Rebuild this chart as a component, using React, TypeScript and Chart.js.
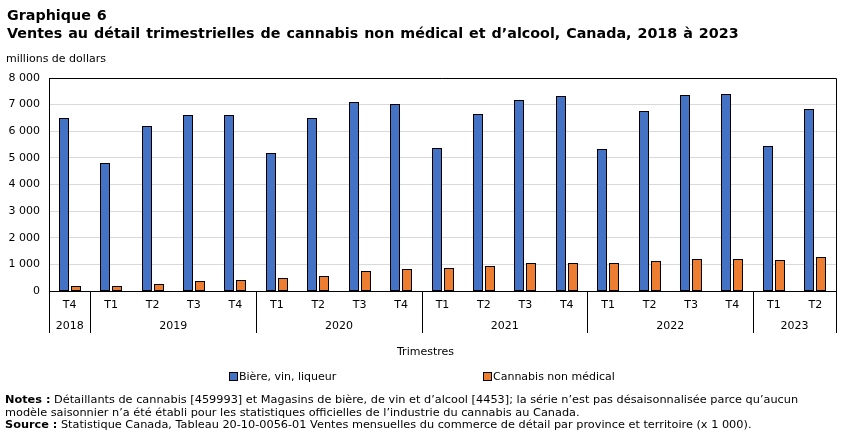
import React, { useEffect, useRef } from "react";
import { Chart, registerables } from "chart.js";

Chart.register(...registerables);

const quarters = ["T4", "T1", "T2", "T3", "T4", "T1", "T2", "T3", "T4", "T1", "T2", "T3", "T4", "T1", "T2", "T3", "T4", "T1", "T2"];
const yearLabels = ["2018", "2019", "2020", "2021", "2022", "2023"];
const yearSizes = [1, 4, 4, 4, 4, 2];
const alcool = [6500, 4800, 6200, 6620, 6620, 5200, 6500, 7100, 7030, 5380, 6650, 7180, 7330, 5340, 6770, 7370, 7410, 5450, 6840];
const cannabis = [170, 180, 250, 370, 400, 480, 560, 750, 820, 860, 940, 1040, 1040, 1040, 1115, 1190, 1190, 1150, 1265];
const yTicks = [0, 1000, 2000, 3000, 4000, 5000, 6000, 7000, 8000];

const FONT = "'DejaVu Sans', Verdana, sans-serif";

const fmt = (v: number) => String(v).replace(/\B(?=(\d{3})+(?!\d))/g, " ");

export default function App() {
  const ref = useRef<HTMLCanvasElement | null>(null);
  useEffect(() => {
    document.body.style.margin = "0";
    const canvas = ref.current;
    if (!canvas) return;
    const crispPlugin = {
      id: "crisp",
      beforeDatasetsDraw(chart: any) {
        chart.data.datasets.forEach((_: any, i: number) => {
          const meta = chart.getDatasetMeta(i);
          meta.data.forEach((el: any) => {
            const w = Math.round(el.width);
            const left = Math.round(el.x - el.width / 2);
            el.width = w;
            el.x = left + w / 2;
            el.y = Math.round(el.y);
            el.base = Math.round(el.base);
          });
        });
      },
    };
    const framePlugin = {
      id: "frame",
      afterDraw(chart: any) {
        const { ctx, chartArea } = chart;
        const xs = chart.scales.x;
        ctx.save();
        ctx.strokeStyle = "#000";
        ctx.lineWidth = 1;
        ctx.beginPath();
        ctx.moveTo(chartArea.left, chartArea.top + 0.5);
        ctx.lineTo(chartArea.right + 0.5, chartArea.top + 0.5);
        ctx.lineTo(chartArea.right + 0.5, chartArea.bottom);
        ctx.stroke();
        const bottom = chartArea.bottom;
        const sepBottom = bottom + 42;
        let idx = 0;
        const bounds: number[] = [chartArea.left];
        yearSizes.forEach((n) => {
          idx += n;
          if (idx < quarters.length) {
            bounds.push((xs.getPixelForValue(idx - 1) + xs.getPixelForValue(idx)) / 2);
          } else {
            bounds.push(chartArea.right);
          }
        });
        ctx.beginPath();
        bounds.forEach((b) => {
          const x = Math.round(b) + 0.5;
          ctx.moveTo(x, bottom);
          ctx.lineTo(x, sepBottom);
        });
        ctx.stroke();
        ctx.fillStyle = "#000";
        ctx.font = "11px " + FONT;
        ctx.textAlign = "center";
        ctx.textBaseline = "middle";
        yearLabels.forEach((y, i) => {
          ctx.fillText(y, (bounds[i] + bounds[i + 1]) / 2, bottom + 35);
        });
        ctx.restore();
      },
    };
    const chart = new Chart(canvas, {
      type: "bar",
      data: {
        labels: quarters,
        datasets: [
          {
            label: "Bière, vin, liqueur",
            data: alcool,
            backgroundColor: "#4472C4",
            borderColor: "#000",
            borderWidth: 1,
            borderSkipped: false,
            barPercentage: 0.833,
            categoryPercentage: 0.579,
          },
          {
            label: "Cannabis non médical",
            data: cannabis,
            backgroundColor: "#ED7D31",
            borderColor: "#000",
            borderWidth: 1,
            borderSkipped: false,
            barPercentage: 0.833,
            categoryPercentage: 0.579,
          },
        ],
      },
      options: {
        responsive: false,
        animation: false,
        devicePixelRatio: 1,
        layout: { padding: { left: 0, right: 15, top: 78, bottom: 100 } },
        plugins: { legend: { display: false }, tooltip: { enabled: false }, title: { display: false } },
        scales: {
          x: {
            grid: { display: false, drawTicks: false },
            border: { color: "#000", width: 1 },
            ticks: { color: "#000", font: { family: FONT, size: 11 }, padding: 8, maxRotation: 0, autoSkip: false },
            afterFit(scale: any) {
              scale.height = 45;
            },
          },
          y: {
            min: 0,
            max: 8000,
            afterBuildTicks(scale: any) {
              scale.ticks = yTicks.map((v) => ({ value: v }));
            },
            grid: { color: "#d9d9d9", drawTicks: false },
            border: { color: "#000", width: 1 },
            ticks: {
              color: "#000",
              font: { family: FONT, size: 11 },
              padding: 9,
              callback: (v: any) => fmt(Number(v)),
            },
            afterFit(scale: any) {
              scale.width = 49;
            },
          },
        },
      },
      plugins: [crispPlugin, framePlugin],
    });
    return () => chart.destroy();
  }, []);

  const abs = (top: number, left: number, extra: React.CSSProperties = {}): React.CSSProperties => ({
    position: "absolute",
    top,
    left,
    whiteSpace: "nowrap",
    color: "#000",
    fontFamily: FONT,
    ...extra,
  });

  return (
    <div style={{ position: "relative", width: 851, height: 436, background: "#fff", overflow: "hidden" }}>
      <canvas ref={ref} width={851} height={436} style={{ position: "absolute", left: 0, top: 0 }} />
      <div style={abs(6, 7, { fontSize: 14.3, lineHeight: "18px", fontWeight: "bold", wordSpacing: 1 })}>
        Graphique 6
        <br />
        Ventes au détail trimestrielles de cannabis non médical et d’alcool, Canada, 2018 à 2023
      </div>
      <div style={abs(52, 6, { fontSize: 11, lineHeight: "13px" })}>millions de dollars</div>
      <div style={abs(345, 397, { fontSize: 11, lineHeight: "13px" })}>Trimestres</div>
      <div style={abs(370, 229, { fontSize: 11, lineHeight: "13px", display: "flex", alignItems: "center" })}>
        <span style={{ display: "inline-block", width: 7, height: 7, background: "#4472C4", border: "1px solid #000", marginRight: 1 }} />
        Bière, vin, liqueur
      </div>
      <div style={abs(370, 483, { fontSize: 11, lineHeight: "13px", display: "flex", alignItems: "center" })}>
        <span style={{ display: "inline-block", width: 7, height: 7, background: "#ED7D31", border: "1px solid #000", marginRight: 1 }} />
        Cannabis non médical
      </div>
      <div style={abs(394, 5, { fontSize: 11.3, lineHeight: "12.5px" })}>
        <b>Notes :</b> Détaillants de cannabis [459993] et Magasins de bière, de vin et d’alcool [4453]; la série n’est pas désaisonnalisée parce qu’aucun
        <br />
        modèle saisonnier n’a été établi pour les statistiques officielles de l’industrie du cannabis au Canada.
        <br />
        <b>Source :</b> Statistique Canada, Tableau 20-10-0056-01 Ventes mensuelles du commerce de détail par province et territoire (x 1 000).
      </div>
    </div>
  );
}
